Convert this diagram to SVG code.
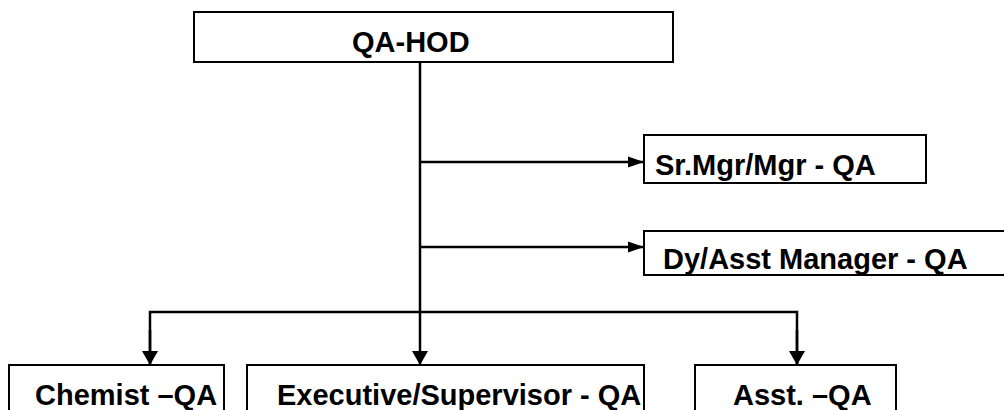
<svg xmlns="http://www.w3.org/2000/svg" width="1004" height="410" viewBox="0 0 1004 410">
<defs>
<style>
.box{fill:#fff;stroke:#000;stroke-width:2}
.lbl{font-family:"Liberation Sans",Arial,sans-serif;font-weight:bold;font-size:29px;fill:#000}
.ln{stroke:#000;stroke-width:2.5;fill:none}
</style>
<marker id="ah" markerUnits="userSpaceOnUse" markerWidth="16" markerHeight="14" refX="16" refY="7" orient="auto">
<path d="M0,1.5 L16,7 L0,12.5 Z" fill="#000"/>
</marker>
<marker id="av" markerUnits="userSpaceOnUse" markerWidth="14" markerHeight="18" refX="14" refY="9" orient="auto">
<path d="M0,1 L14,9 L0,17 Z" fill="#000"/>
</marker>
</defs>
<rect width="1004" height="410" fill="#fff"/>
<g id="connectors">
<line class="ln" x1="420" y1="62" x2="420" y2="365" marker-end="url(#av)"/>
<line class="ln" x1="420" y1="162" x2="644" y2="162" marker-end="url(#ah)"/>
<line class="ln" x1="420" y1="247" x2="644" y2="247" marker-end="url(#ah)"/>
<polyline class="ln" points="150,365 150,312 797,312 797,365" fill="none"/>
<line class="ln" x1="150" y1="330" x2="150" y2="365" marker-end="url(#av)"/>
<line class="ln" x1="797" y1="330" x2="797" y2="365" marker-end="url(#av)"/>
</g>
<g id="qa-hod">
<rect class="box" x="194" y="12" width="479" height="50"/>
<text class="lbl" x="352" y="52">QA-HOD</text>
</g>
<g id="sr-mgr">
<rect class="box" x="644" y="135" width="282" height="48"/>
<text class="lbl" x="655" y="175">Sr.Mgr/Mgr - QA</text>
</g>
<g id="dy-asst">
<rect class="box" x="644" y="231" width="380" height="44"/>
<text class="lbl" x="663" y="269">Dy/Asst Manager - QA</text>
</g>
<g id="chemist">
<rect class="box" x="9" y="365" width="215" height="60"/>
<text class="lbl" x="35" y="405">Chemist –QA</text>
</g>
<g id="executive">
<rect class="box" x="247" y="365" width="397" height="60"/>
<text class="lbl" x="277" y="405">Executive/Supervisor - QA</text>
</g>
<g id="asst">
<rect class="box" x="695" y="365" width="201" height="60"/>
<text class="lbl" x="733" y="405">Asst. –QA</text>
</g>
</svg>
